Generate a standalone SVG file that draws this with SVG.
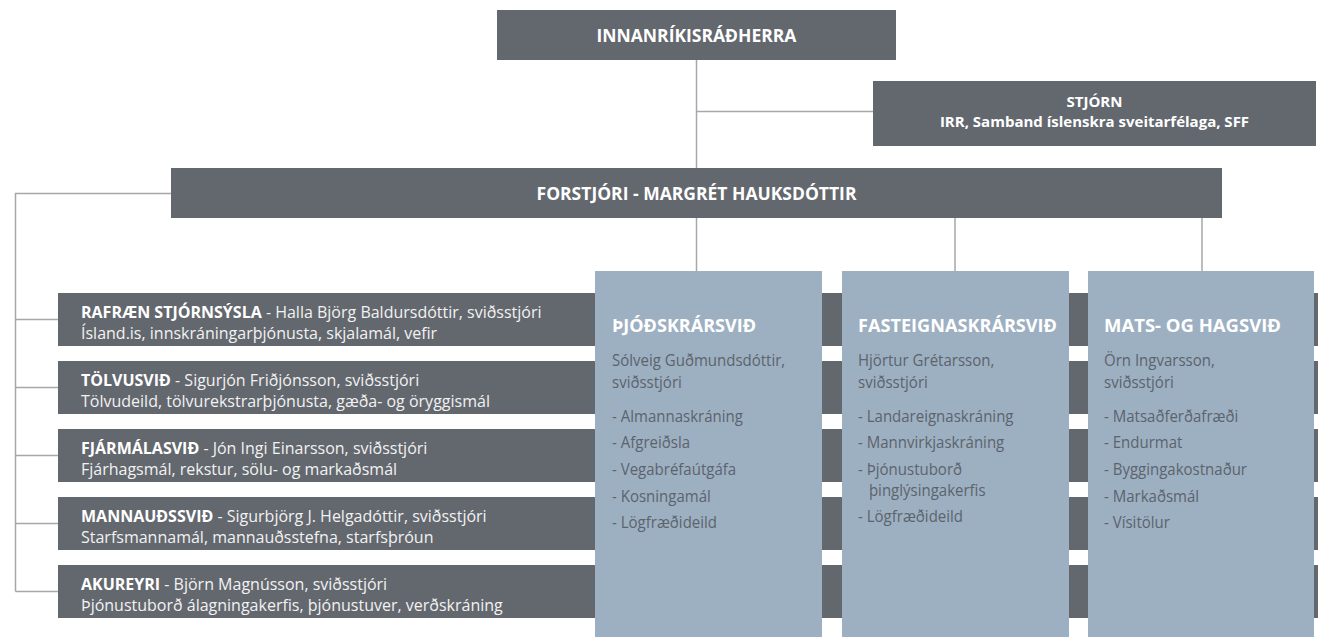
<svg xmlns="http://www.w3.org/2000/svg" width="1318" height="637" viewBox="0 0 1318 637">
  <style>
    .dark { fill: #63676e; }
    .blue { fill: #9db0c2; }
    .conn { stroke: #a6a6ad; stroke-width: 1.5; fill: none; }
    text { font-family: "Open Sans", "Noto Sans", "Liberation Sans", sans-serif; }
    .title { font-weight: bold; fill: #ffffff; font-size: 17.5px; }
    .sub { font-weight: bold; fill: #ffffff; font-size: 15px; }
    .band { font-size: 16px; fill: #f2f2f2; }
    .band tspan.b { font-weight: bold; fill: #ffffff; }
    .colh { font-weight: bold; fill: #ffffff; font-size: 17.5px; }
    .colt { fill: #5c636c; font-size: 16.5px; }
  </style>
  <rect width="1318" height="637" fill="#ffffff"/>

  <g id="connectors">
    <path class="conn" d="M696.5 60 V168"/>
    <path class="conn" d="M696.5 111.5 H873"/>
    <path class="conn" d="M696.5 218 V271"/>
    <path class="conn" d="M955 218 V271"/>
    <path class="conn" d="M1202 218 V271"/>
    <path class="conn" d="M171 193.5 H15.5 V591.5"/>
    <path class="conn" d="M15.5 319.5 H58"/>
    <path class="conn" d="M15.5 387.5 H58"/>
    <path class="conn" d="M15.5 455.5 H58"/>
    <path class="conn" d="M15.5 523.5 H58"/>
    <path class="conn" d="M15.5 591.5 H58"/>
  </g>

  <g id="innanrikisradherra">
    <rect class="dark" x="497" y="10" width="399" height="50"/>
    <text class="title" x="696.5" y="42" text-anchor="middle">INNANRÍKISRÁÐHERRA</text>
  </g>

  <g id="stjorn">
    <rect class="dark" x="873" y="81" width="443" height="65"/>
    <text class="sub" x="1094.5" y="107" text-anchor="middle">STJÓRN</text>
    <text class="sub" x="1094.5" y="127" text-anchor="middle">IRR, Samband íslenskra sveitarfélaga, SFF</text>
  </g>

  <g id="forstjori">
    <rect class="dark" x="171" y="168" width="1051" height="50"/>
    <text class="title" x="696.5" y="200" text-anchor="middle">FORSTJÓRI - MARGRÉT HAUKSDÓTTIR</text>
  </g>

  <g id="rafraen">
    <rect class="dark" x="58" y="293" width="1260" height="53"/>
    <text class="band" x="81" y="317.5"><tspan class="b">RAFRÆN STJÓRNSÝSLA</tspan> - Halla Björg Baldursdóttir, sviðsstjóri</text>
    <text class="band" x="81" y="338.5">Ísland.is, innskráningarþjónusta, skjalamál, vefir</text>
  </g>
  <g id="tolvusvid">
    <rect class="dark" x="58" y="361" width="1260" height="53"/>
    <text class="band" x="81" y="385.5"><tspan class="b">TÖLVUSVIÐ</tspan> - Sigurjón Friðjónsson, sviðsstjóri</text>
    <text class="band" x="81" y="406.5">Tölvudeild, tölvurekstrarþjónusta, gæða- og öryggismál</text>
  </g>
  <g id="fjarmalasvid">
    <rect class="dark" x="58" y="429" width="1260" height="53"/>
    <text class="band" x="81" y="453.5"><tspan class="b">FJÁRMÁLASVIÐ</tspan> - Jón Ingi Einarsson, sviðsstjóri</text>
    <text class="band" x="81" y="474.5">Fjárhagsmál, rekstur, sölu- og markaðsmál</text>
  </g>
  <g id="mannaudssvid">
    <rect class="dark" x="58" y="497" width="1260" height="53"/>
    <text class="band" x="81" y="521.5"><tspan class="b">MANNAUÐSSVIÐ</tspan> - Sigurbjörg J. Helgadóttir, sviðsstjóri</text>
    <text class="band" x="81" y="542.5">Starfsmannamál, mannauðsstefna, starfsþróun</text>
  </g>
  <g id="akureyri">
    <rect class="dark" x="58" y="565" width="1260" height="53"/>
    <text class="band" x="81" y="589.5"><tspan class="b">AKUREYRI</tspan> - Björn Magnússon, sviðsstjóri</text>
    <text class="band" x="81" y="610.5">Þjónustuborð álagningakerfis, þjónustuver, verðskráning</text>
  </g>

  <g id="thjodskrarsvid">
    <rect class="blue" x="595" y="271" width="227" height="366"/>
    <text class="colh" x="612" y="332" textLength="144" lengthAdjust="spacingAndGlyphs">ÞJÓÐSKRÁRSVIÐ</text>
    <g transform="translate(612 0) scale(0.91 1)">
      <text class="colt" x="0" y="366">Sólveig Guðmundsdóttir,</text>
      <text class="colt" x="0" y="388">sviðsstjóri</text>
      <text class="colt" x="0" y="422">- Almannaskráning</text>
      <text class="colt" x="0" y="448">- Afgreiðsla</text>
      <text class="colt" x="0" y="475">- Vegabréfaútgáfa</text>
      <text class="colt" x="0" y="502">- Kosningamál</text>
      <text class="colt" x="0" y="528">- Lögfræðideild</text>
    </g>
  </g>

  <g id="fasteignaskrarsvid">
    <rect class="blue" x="842" y="271" width="227" height="366"/>
    <text class="colh" x="858" y="332" textLength="199" lengthAdjust="spacingAndGlyphs">FASTEIGNASKRÁRSVIÐ</text>
    <g transform="translate(858 0) scale(0.91 1)">
      <text class="colt" x="0" y="366">Hjörtur Grétarsson,</text>
      <text class="colt" x="0" y="388">sviðsstjóri</text>
      <text class="colt" x="0" y="422">- Landareignaskráning</text>
      <text class="colt" x="0" y="448">- Mannvirkjaskráning</text>
      <text class="colt" x="0" y="475">- Þjónustuborð</text>
      <text class="colt" x="12" y="496">þinglýsingakerfis</text>
      <text class="colt" x="0" y="522">- Lögfræðideild</text>
    </g>
  </g>

  <g id="mats-og-hagsvid">
    <rect class="blue" x="1088" y="271" width="226" height="366"/>
    <text class="colh" x="1104" y="332" textLength="177" lengthAdjust="spacingAndGlyphs">MATS- OG HAGSVIÐ</text>
    <g transform="translate(1104 0) scale(0.91 1)">
      <text class="colt" x="0" y="366">Örn Ingvarsson,</text>
      <text class="colt" x="0" y="388">sviðsstjóri</text>
      <text class="colt" x="0" y="422">- Matsaðferðafræði</text>
      <text class="colt" x="0" y="448">- Endurmat</text>
      <text class="colt" x="0" y="475">- Byggingakostnaður</text>
      <text class="colt" x="0" y="502">- Markaðsmál</text>
      <text class="colt" x="0" y="528">- Vísitölur</text>
    </g>
  </g>
</svg>
